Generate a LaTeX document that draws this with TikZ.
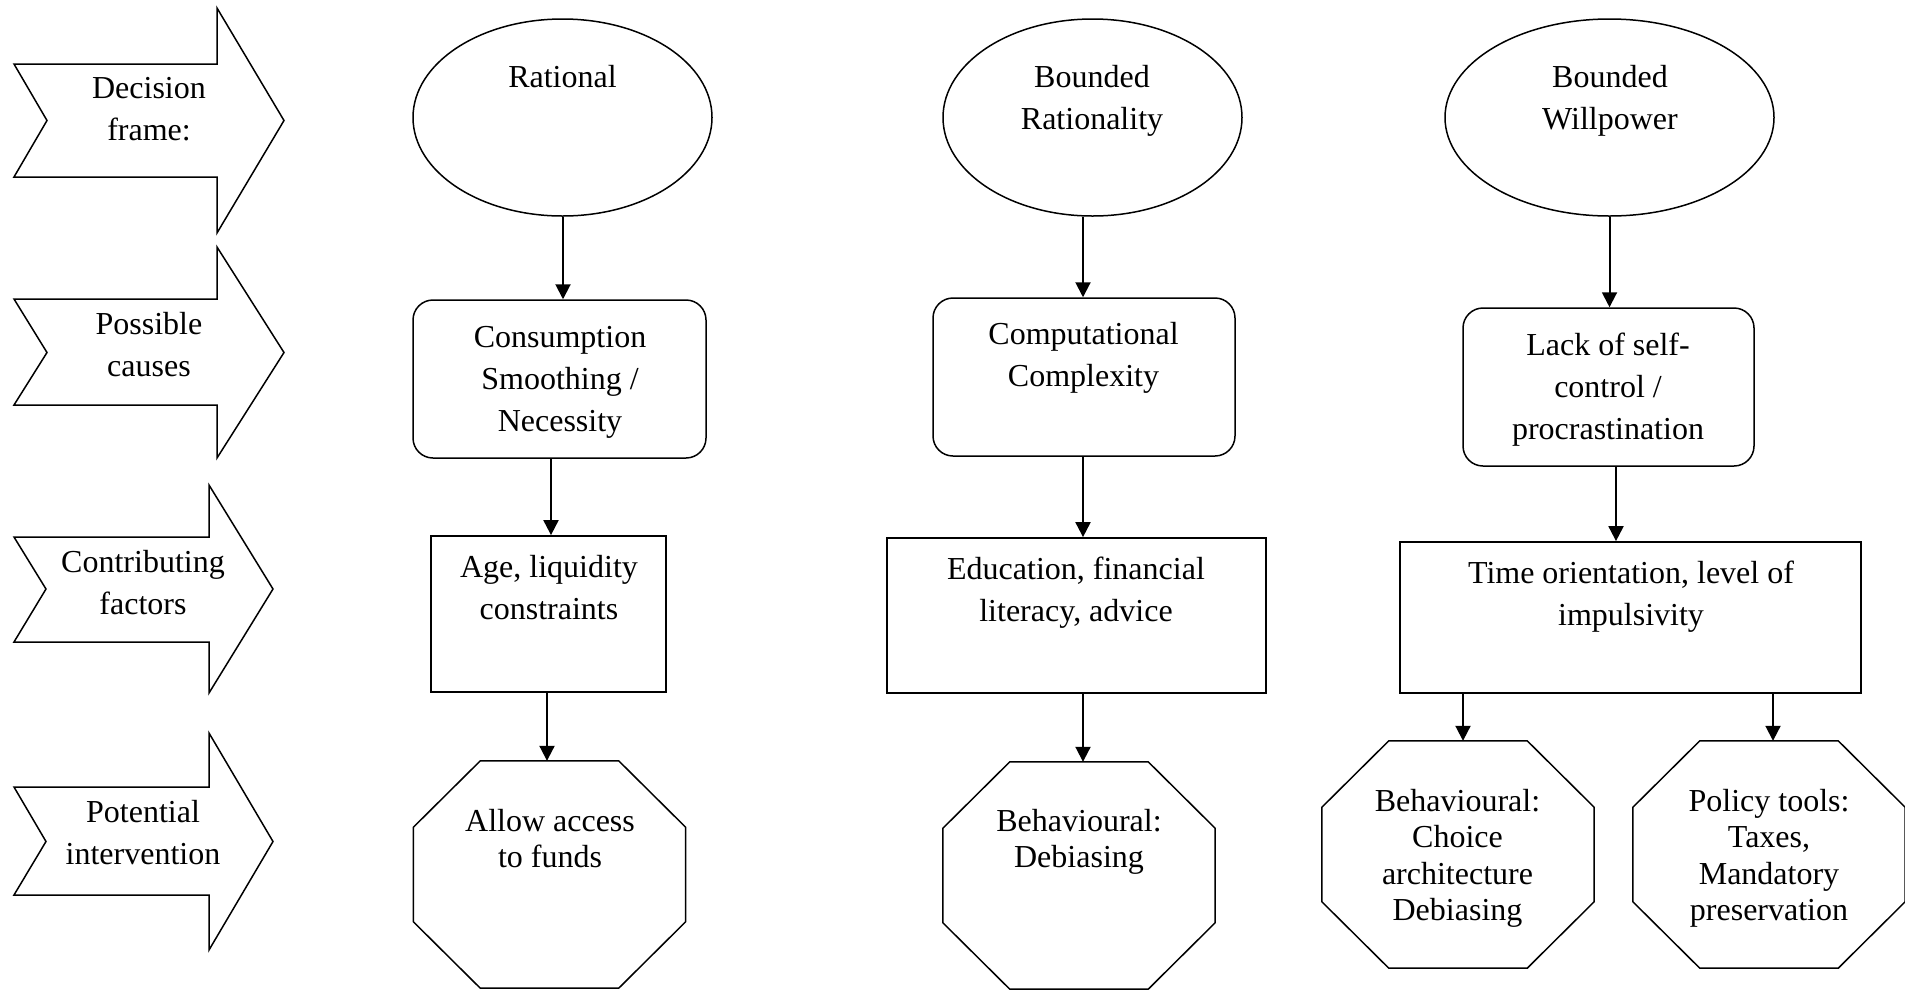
\documentclass[tikz,border=0pt]{standalone}
\usepackage{fontspec}
\setmainfont{Liberation Serif}
\usetikzlibrary{arrows.meta,shapes.geometric,calc}

% octagon drawn inside the (invisible) rectangular slot node #1
\newcommand\octagonat[1]{%
  \draw[outline] ($(#1.north west)+(67,0)$) -- ($(#1.north east)+(-67,0)$)
    -- ($(#1.north east)+(0,66.5)$) -- ($(#1.south east)+(0,-66.5)$)
    -- ($(#1.south east)+(-67,0)$) -- ($(#1.south west)+(67,0)$)
    -- ($(#1.south west)+(0,-66.5)$) -- ($(#1.north west)+(0,66.5)$) -- cycle;}

\begin{document}
\begin{tikzpicture}[x=1pt,y=-1pt,
  outline/.style={draw=black, line width=1.5pt, line join=miter},
  oval/.style={outline, ellipse, minimum height=197pt, inner sep=0pt},
  causebox/.style={outline, rectangle, rounded corners=20pt, minimum height=158pt, inner sep=0pt},
  factorbox/.style={draw=black, line width=1.8pt, rectangle, inner sep=0pt},
  octslot/.style={rectangle, minimum width=272pt, minimum height=227pt, inner sep=0pt},
  txt/.style={align=center, anchor=north, inner sep=0pt, font=\fontsize{32}{42}\selectfont},
  octtxt/.style={txt, font=\fontsize{32}{36.3}\selectfont},
  conn/.style={line width=2pt, -{Triangle[length=15pt,width=15pt]}}
]
\fill[white] (0,0) rectangle (1905,989);
\useasboundingbox (0,0) rectangle (1905,989);

% row labels: notched block arrows
\draw[outline] (14,64) -- (217,64) -- (217,8) -- (284,120.5) -- (217,233)
  -- (217,177) -- (14,177) -- (47,120.5) -- cycle;
\draw[outline] (14,299) -- (217,299) -- (217,247) -- (284,352.5) -- (217,458)
  -- (217,405) -- (14,405) -- (47,352.5) -- cycle;
\draw[outline] (14,537) -- (209,537) -- (209,485) -- (273,589) -- (209,693)
  -- (209,642) -- (14,642) -- (46,589) -- cycle;
\draw[outline] (14,787) -- (209,787) -- (209,733) -- (273,841.5) -- (209,950)
  -- (209,895) -- (14,895) -- (46,841.5) -- cycle;
\node[txt] (lab1) at (149,77) {Decision\\frame:};
\node[txt] (lab2) at (149,312) {Possible\\causes};
\node[txt] (lab3) at (143,550) {Contributing\\factors};
\node[txt] (lab4) at (143,800) {Potential\\intervention};

% decision frames
\node[oval, minimum width=299pt] (e1) at (562.5,117.5) {};
\node[oval, minimum width=299pt] (e2) at (1092.5,117.5) {};
\node[oval, minimum width=329pt] (e3) at (1609.5,117.5) {};
\node[txt] (te1) at (562.5,65) {Rational};
\node[txt] (te2) at (1092,65) {Bounded\\Rationality};
\node[txt] (te3) at (1610,65) {Bounded\\Willpower};

% possible causes
\node[causebox, minimum width=293pt] (rr1) at (559.5,379) {};
\node[causebox, minimum width=302pt] (rr2) at (1084,377) {};
\node[causebox, minimum width=291pt] (rr3) at (1608.5,387) {};
\node[txt] (trr1) at (560,326) {Consumption\\Smoothing /\\Necessity};
\node[txt] (trr2) at (1083.5,322) {Computational\\Complexity};
\node[txt] (trr3) at (1608,333) {Lack of self-\\control /\\procrastination};

% contributing factors
\node[factorbox, minimum width=235pt, minimum height=156pt] (b1) at (548.5,614) {};
\node[factorbox, minimum width=379pt, minimum height=155pt] (b2) at (1076.5,615.5) {};
\node[factorbox, minimum width=461pt, minimum height=151pt] (b3) at (1630.5,617.5) {};
\node[txt] (tb1) at (549,555) {Age, liquidity\\constraints};
\node[txt] (tb2) at (1076,557) {Education, financial\\literacy, advice};
\node[txt] (tb3) at (1631,561) {Time orientation, level of\\impulsivity};

% potential interventions
\node[octslot] (o1) at (549.5,874.5) {};
\node[octslot] (o2) at (1079,875.5) {};
\node[octslot] (o3a) at (1458,854.5) {};
\node[octslot] (o3b) at (1769,854.5) {};
\octagonat{o1}
\octagonat{o2}
\octagonat{o3a}
\octagonat{o3b}
\node[octtxt] (to1) at (550,809) {Allow access\\to funds};
\node[octtxt] (to2) at (1079,809) {Behavioural:\\Debiasing};
\node[octtxt] (to3a) at (1457.5,789) {Behavioural:\\Choice\\architecture\\Debiasing};
\node[octtxt] (to3b) at (1769,789) {Policy tools:\\Taxes,\\Mandatory\\preservation};

% connectors
\draw[conn] ([xshift=0.5pt]e1.south) -- ([xshift=3.5pt]rr1.north);
\draw[conn] ([xshift=-8.5pt]rr1.south) -- ([xshift=2.5pt]b1.north);
\draw[conn] ([xshift=-1.5pt]b1.south) -- ([xshift=-2.5pt]o1.north);

\draw[conn] ([xshift=-9.5pt]e2.south) -- ([xshift=-1pt]rr2.north);
\draw[conn] ([xshift=-1pt]rr2.south) -- ([xshift=6.5pt]b2.north);
\draw[conn] ([xshift=6.5pt]b2.south) -- ([xshift=4pt]o2.north);

\draw[conn] (e3.south) -- ([xshift=1pt]rr3.north);
\draw[conn] ([xshift=7.5pt]rr3.south) -- ([xshift=-14.5pt]b3.north);
\draw[conn] ([xshift=-167.5pt]b3.south) -- ([xshift=5pt]o3a.north);
\draw[conn] ([xshift=142.5pt]b3.south) -- ([xshift=4pt]o3b.north);
\end{tikzpicture}
\end{document}
